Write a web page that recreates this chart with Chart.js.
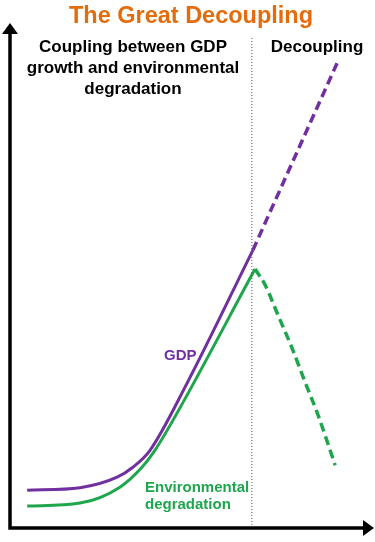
<!DOCTYPE html>
<html>
<head>
<meta charset="utf-8">
<script src="https://cdn.jsdelivr.net/npm/chart.js@4"></script>
<style>
  html, body { margin: 0; padding: 0; background: #fff; }
  #wrap { width: 375px; height: 542px; }
</style>
</head>
<body>
<div id="wrap"><canvas id="decoupling" width="375" height="542"></canvas></div>
<script>
// ── Data (time on x, index level on y, both 0..100) ─────────────
const gdpX        = [4.9, 20.0, 30.6, 35.1, 40.0, 50.6, 69.4];
const gdpY        = [7.6, 8.1, 10.2, 12.2, 15.6, 29.1, 55.8];
const gdpFutureX  = [69.4, 94.0];
const gdpFutureY  = [55.8, 94.2];

const envX        = [4.9, 20.0, 31.4, 37.7, 41.4, 47.1, 70.0];
const envY        = [4.4, 5.0, 8.2, 12.2, 15.6, 22.3, 52.0];
const envFutureX  = [70.0, 72.9, 76.6, 80.6, 84.3, 88.0, 92.9];
const envFutureY  = [52.0, 48.8, 42.7, 36.1, 29.3, 22.7, 12.6];

const splitX      = [69.1, 69.1];
const splitY      = [0, 98.7];

const TITLE    = 'The Great Decoupling';
const HEADINGS = ['Coupling between GDP', 'growth and environmental', 'degradation'];

const PURPLE = '#7030a0';
const GREEN  = '#1ea64c';
const ORANGE = '#e46c0a';
const FONT   = '"Liberation Sans", Arial, sans-serif';

const pts = (xs, ys) => xs.map((x, i) => ({ x, y: ys[i] }));

// ── Title, axes with arrowheads, text annotations ───────────────
const decor = {
  id: 'decor',
  afterDraw(chart) {
    const { ctx, chartArea: a, scales: { x, y } } = chart;
    const x0 = x.getPixelForValue(0), y0 = y.getPixelForValue(0);
    ctx.save();

    ctx.textBaseline = 'alphabetic';
    ctx.textAlign = 'center';
    ctx.fillStyle = ORANGE;
    ctx.font = `bold 23.5px ${FONT}`;
    ctx.fillText(TITLE, 191, 23);

    ctx.strokeStyle = '#000'; ctx.fillStyle = '#000'; ctx.lineWidth = 3.5;
    ctx.beginPath();
    ctx.moveTo(x0, y0 + 1.5); ctx.lineTo(x0, a.top + 3);
    ctx.moveTo(x0 - 1.5, y0); ctx.lineTo(a.right + 3, y0);
    ctx.stroke();
    ctx.beginPath();
    ctx.moveTo(x0, a.top - 7); ctx.lineTo(x0 - 8, a.top + 4); ctx.lineTo(x0 + 8, a.top + 4);
    ctx.closePath(); ctx.fill();
    ctx.beginPath();
    ctx.moveTo(a.right + 14, y0); ctx.lineTo(a.right + 3, y0 - 8); ctx.lineTo(a.right + 3, y0 + 8);
    ctx.closePath(); ctx.fill();

    // section headings
    ctx.font = `bold 17px ${FONT}`;
    HEADINGS.forEach((t, i) => ctx.fillText(t, 133, 52 + i * 21));
    ctx.fillText('Decoupling', 317, 52);

    // series labels
    ctx.textAlign = 'left';
    ctx.font = `bold 15px ${FONT}`;
    ctx.fillStyle = PURPLE;
    ctx.fillText('GDP', 164, 360);
    ctx.fillStyle = GREEN;
    ctx.fillText('Environmental', 145, 492);
    ctx.fillText('degradation', 145, 509);
    ctx.restore();
  }
};

new Chart(document.getElementById('decoupling'), {
  type: 'line',
  data: {
    datasets: [
      { data: pts(splitX, splitY), borderColor: '#555', borderWidth: 1, borderDash: [1, 2], tension: 0 },
      { data: pts(gdpX, gdpY), borderColor: PURPLE, borderWidth: 3, cubicInterpolationMode: 'monotone' },
      { data: pts(gdpFutureX, gdpFutureY), borderColor: PURPLE, borderWidth: 3.5, borderDash: [9, 5] },
      { data: pts(envX, envY), borderColor: GREEN, borderWidth: 3, cubicInterpolationMode: 'monotone' },
      { data: pts(envFutureX, envFutureY), borderColor: GREEN, borderWidth: 3.5, borderDash: [9, 5], cubicInterpolationMode: 'monotone' }
    ]
  },
  options: {
    responsive: false,
    animation: false,
    devicePixelRatio: 1,
    elements: { point: { radius: 0 }, line: { borderCapStyle: 'butt', borderJoinStyle: 'round' } },
    layout: { padding: { left: 10, right: 15, top: 30, bottom: 14 } },
    scales: {
      x: { type: 'linear', min: 0, max: 100, display: false },
      y: { min: 0, max: 100, display: false }
    },
    plugins: {
      legend: { display: false },
      tooltip: { enabled: false },
      title: { display: false }
    }
  },
  plugins: [decor]
});
</script>
</body>
</html>
